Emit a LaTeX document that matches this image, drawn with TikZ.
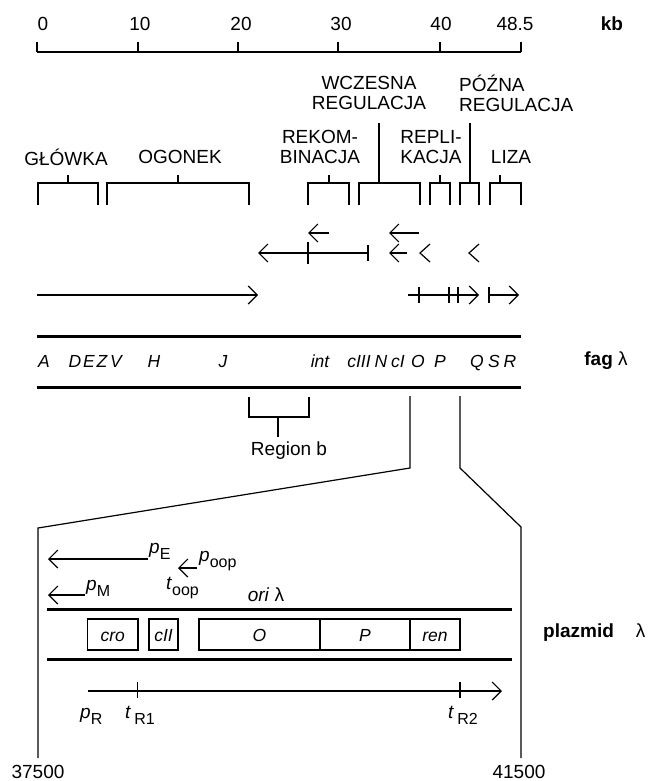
\documentclass[tikz,border=0pt]{standalone}
\usepackage{fontspec}
\setmainfont{Liberation Sans}
\usetikzlibrary{arrows.meta}
\newcommand\lsub[1]{\raisebox{-6pt}{\fontsize{16}{16}\selectfont #1}}
\begin{document}
\begin{tikzpicture}[x=1pt,y=-1pt,
  every node/.style={font=\fontsize{19}{20}\selectfont, inner sep=0pt},
  ln/.style={line width=1.2pt, line cap=butt},
  thk/.style={line width=3pt},
  arr/.style={ln, -{Straight Barb[length=9pt,width=18pt]}},
  gene/.style={font=\fontsize{17.5}{20}\selectfont\itshape, anchor=base},
  hdr/.style={font=\fontsize{19}{20}\selectfont, align=center},
  bx/.style={ln, draw},
]
\useasboundingbox (0,0) rectangle (652,781);

% ruler
\draw[ln] (37,52) -- (521,52);
\foreach \x in {37,138,238,338,440,521} \draw[ln] (\x,42) -- (\x,52);
\node (n0) at (43,24) {0};
\node (n10) at (140,24) {10};
\node (n20) at (241,24) {20};
\node (n30) at (341,24) {30};
\node (n40) at (441,24) {40};
\node (n48) at (515,24) {48.5};
\node[font=\fontsize{19}{20}\selectfont\bfseries] (kb) at (612,24) {kb};

% headers
\node[hdr] (wcz) at (369,93) {WCZESNA\\REGULACJA};
\node[hdr, align=left, anchor=west] (pozna) at (459,93) {PÓŹNA\\REGULACJA};
\node[hdr] (rek) at (320,147) {REKOM-\\BINACJA};
\node[hdr] (rep) at (431,147) {REPLI-\\KACJA};
\node[hdr] (glo) at (66,157) {GŁÓWKA};
\node[hdr] (ogo) at (180,157) {OGONEK};
\node[hdr] (liz) at (511,157) {LIZA};

% brackets
\foreach \a/\b/\s/\t in {38/98/68/175, 107/249/178/175, 308/349/329/175, 359/420/379/123, 430/450/440/175, 460/479/470/123, 490/521/500/175}
  \draw[ln] (\a,205) -- (\a,183) -- (\b,183) -- (\b,205) (\s,183) -- (\s,\t);

% transcription arrows
\draw[arr] (329,233) -- (308,233);
\draw[ln] (308,242) -- (308,264);
\draw[arr] (419,233) -- (389,233);
\draw[arr] (407,253) -- (389,253);
\draw[arr] (369,253) -- (258,253);
\draw[ln] (368,245) -- (368,261);
\draw[ln] (430,244) -- (420,253) -- (430,262);
\draw[ln] (479,244) -- (469,253) -- (479,262);
\draw[arr] (37,295) -- (258,295);
\draw[arr] (408,295) -- (479,295);
\foreach \x in {419,449,458} \draw[ln] (\x,287) -- (\x,303);
\draw[ln] (489,287) -- (489,303);
\draw[arr] (489,295) -- (519,295);

% phage map
\draw[thk] (37,336) -- (521,336);
\draw[thk] (37,387) -- (521,387);
\foreach \g/\x in {A/44, D/75, E/89, Z/102, V/116, H/154, J/223, int/320, cIII/359, N/381, cI/398, O/418, P/440, Q/477, S/494, R/510}
  \node[gene] at (\x,367) {\g};
\node (fag) at (606,361) {\textbf{fag} λ};

% region b
\draw[ln] (249,397) -- (249,417) -- (309,417) -- (309,397) (278,417) -- (278,437);
\node (regb) at (289,451) {Region b};

% zoom lines
\draw[ln] (410,396) -- (410,468) -- (38,528) -- (38,758);
\draw[ln] (460,396) -- (460,468) -- (521,527) -- (521,758);

% plasmid
\draw[arr] (148,559) -- (48,559);
\node[anchor=west] (pE) at (149,551) {\textit{p}\lsub{E}};
\draw[arr] (85,595) -- (48,595);
\node[anchor=west] (pM) at (86,588) {\textit{p}\lsub{M}};
\draw[arr] (197,568) -- (178,568);
\node[anchor=west] (poop) at (199,561) {\textit{p}\lsub{oop}};
\node[anchor=west] (toop) at (166,588) {\textit{t}\lsub{oop}};
\node (ori) at (266,595) {\textit{ori} λ};

\draw[thk] (47,609) -- (512,609);
\draw[thk] (47,659) -- (512,659);
\draw[bx] (87.5,619) rectangle (138,650);
\draw[bx] (149,619) rectangle (178,650);
\draw[bx] (199,619) rectangle (460,650);
\draw[ln] (320,619) -- (320,650) (410,619) -- (410,650);
\node[gene] at (112.75,641) {cro};
\node[gene] at (163.5,641) {cII};
\node[gene] at (259.5,641) {O};
\node[gene] at (365,641) {P};
\node[gene] at (435,641) {ren};
\node[font=\fontsize{19}{20}\selectfont\bfseries, anchor=west] (plaz) at (543,633) {plazmid\hspace{22pt}\mdseries λ};

\draw[arr] (87.5,691) -- (502,691);
\draw[ln] (137.5,682) -- (137.5,698) (460,682) -- (460,698);
\node[anchor=west] (pR) at (80,716) {\textit{p}\lsub{R}};
\node[anchor=west] (tR1) at (125,715) {\textit{t}\,\lsub{R1}};
\node[anchor=west] (tR2) at (448,715) {\textit{t}\,\lsub{R2}};

\node (k1) at (38,772) {37500};
\node (k2) at (519,772) {41500};
\end{tikzpicture}
\end{document}
